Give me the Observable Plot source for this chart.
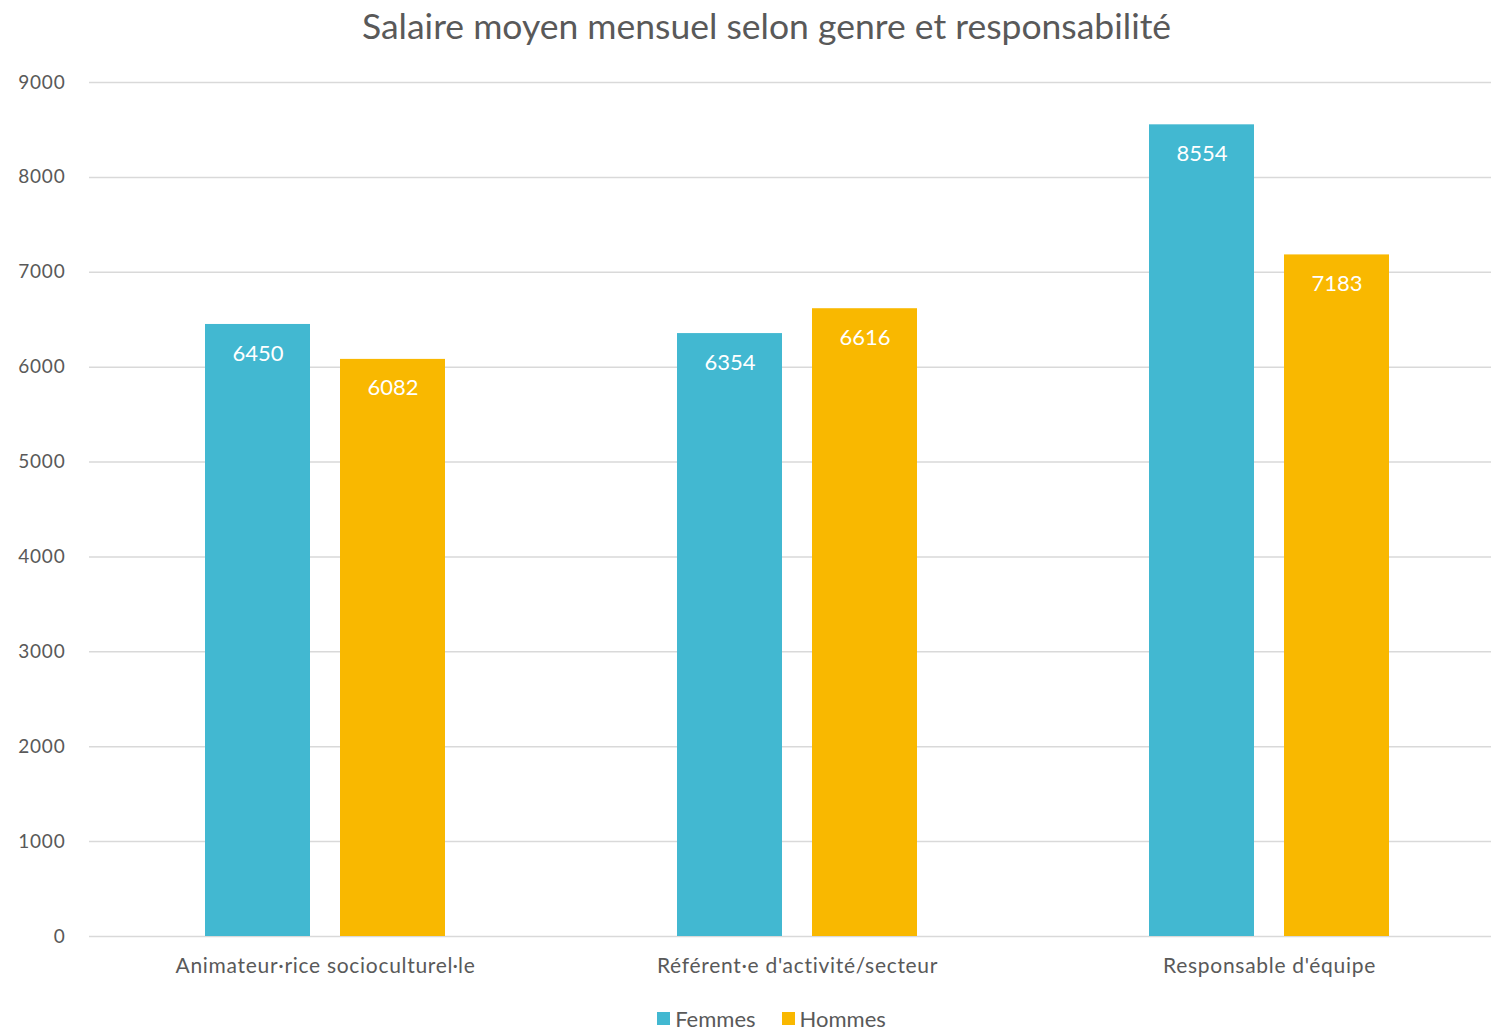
<!DOCTYPE html>
<html>
<head>
<meta charset="utf-8">
<script src="https://cdn.jsdelivr.net/npm/d3@7"></script>
<script src="https://cdn.jsdelivr.net/npm/@observablehq/plot@0.6"></script>
<style>
  body { margin: 0; background: #fff; font-family: Lato, "Open Sans", sans-serif; color: #595959; }
  #title { height: 52px; line-height: 52px; font-size: 35.5px; text-align: center; padding-left: 42px; width: 1449px; }
  #legend { display: flex; justify-content: center; align-items: center; gap: 26px; font-size: 22px; padding-left: 52px; width: 1439px; height: 28px; }
  #legend span.sw { display: inline-block; width: 13px; height: 13px; margin-right: 5px; }
  svg g[aria-label="y-grid"] line { stroke: #d9d9d9; stroke-opacity: 1; stroke-width: 1.5; }
  svg g[aria-label^="fx-axis"] text { font-size: 21px; letter-spacing: 0.7px; }
  svg g[aria-label^="y-axis"] text { letter-spacing: 0.8px; }
</style>
</head>
<body>
<div id="title">Salaire moyen mensuel selon genre et responsabilité</div>
<div id="chart"></div>
<div id="legend"></div>
<script>
const categories = ["Animateur·rice socioculturel·le", "Référent·e d'activité/secteur", "Responsable d'équipe"];
const series = ["Femmes", "Hommes"];
const femmes = [6450, 6354, 8554];
const hommes = [6082, 6616, 7183];
const yTicks = [0, 1000, 2000, 3000, 4000, 5000, 6000, 7000, 8000, 9000];
const colors = ["#42B8D1", "#F9B800"];

const data = [];
categories.forEach((c, i) => {
  data.push({cat: c, genre: "Femmes", value: femmes[i]});
  data.push({cat: c, genre: "Hommes", value: hommes[i]});
});

const chart = Plot.plot({
  width: 1491,
  height: 952,
  marginTop: 30,
  marginBottom: 68,
  marginLeft: 89,
  marginRight: 0,
  style: {fontFamily: "Lato, 'Open Sans', sans-serif", fontSize: "19px", color: "#595959", background: "#fff"},
  fx: {domain: categories, range: [89, 1505], padding: 0, axis: "bottom", tickSize: 0, tickPadding: 22, label: null},
  x: {domain: series, paddingInner: 0.2222, paddingOuter: 0.859, axis: null},
  y: {domain: [0, 9000], ticks: yTicks, grid: true, tickSize: 0, tickPadding: 24, label: null, tickFormat: d => String(d)},
  color: {domain: series, range: colors},
  marks: [
    Plot.barY(data, {fx: "cat", x: "genre", y: "value", fill: "genre"}),
    Plot.text(data, {fx: "cat", x: "genre", y: "value", text: d => String(d.value), dy: 29, fill: "white", fontSize: 22})
  ]
});
document.getElementById("chart").appendChild(chart);

const legend = document.getElementById("legend");
series.forEach((s, i) => {
  const item = document.createElement("div");
  item.style.display = "flex";
  item.style.alignItems = "center";
  item.innerHTML = `<span class="sw" style="background:${colors[i]}"></span>${s}`;
  legend.appendChild(item);
});
</script>
</body>
</html>
